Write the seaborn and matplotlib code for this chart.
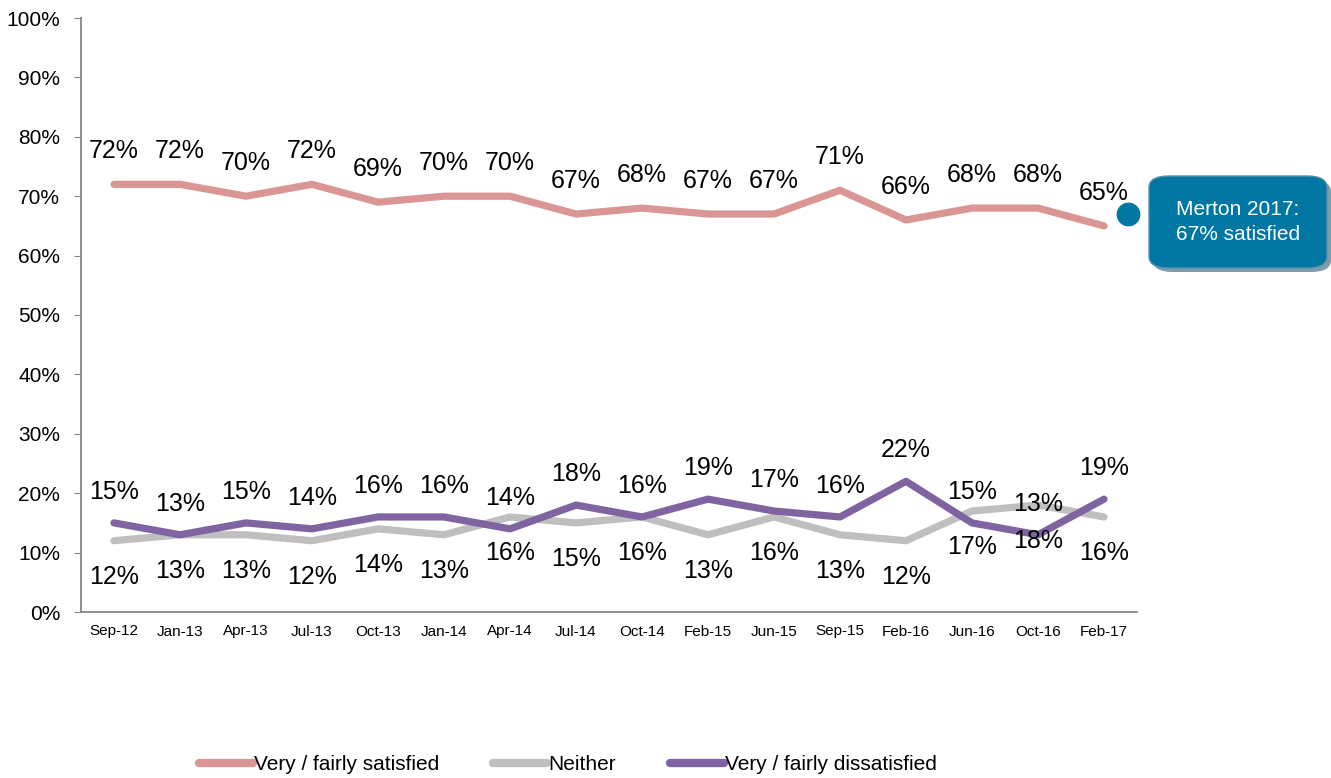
import pandas as pd
import matplotlib.pyplot as plt
import seaborn as sns
from matplotlib.patches import FancyBboxPatch
from matplotlib.lines import Line2D

periods = ["Sep-12", "Jan-13", "Apr-13", "Jul-13", "Oct-13", "Jan-14", "Apr-14", "Jul-14",
           "Oct-14", "Feb-15", "Jun-15", "Sep-15", "Feb-16", "Jun-16", "Oct-16", "Feb-17"]
satisfied = [72, 72, 70, 72, 69, 70, 70, 67, 68, 67, 67, 71, 66, 68, 68, 65]
neither = [12, 13, 13, 12, 14, 13, 16, 15, 16, 13, 16, 13, 12, 17, 18, 16]
dissatisfied = [15, 13, 15, 14, 16, 16, 14, 18, 16, 19, 17, 16, 22, 15, 13, 19]
series_names = ["Very / fairly satisfied", "Neither", "Very / fairly dissatisfied"]
colors = ["#D99694", "#BFBFBF", "#8064A2"]
merton_value = 67
merton_text = "Merton 2017:\n67% satisfied"

sns.set_style("white")
plt.rcParams['font.family'] = ['Liberation Sans', 'DejaVu Sans']
plt.rcParams['text.color'] = 'black'
plt.rcParams['xtick.color'] = 'black'
plt.rcParams['ytick.color'] = 'black'

df = pd.DataFrame({"period": periods * 3,
                   "value": satisfied + neither + dissatisfied,
                   "series": [s for s in series_names for _ in periods]})

fig = plt.figure(figsize=(13.31, 7.78), dpi=100)
ax = fig.add_axes([81 / 1331, 1 - 612 / 778, (1137 - 81) / 1331, (612 - 18) / 778])

sns.lineplot(data=df, x="period", y="value", hue="series", hue_order=series_names,
             palette=colors, sort=False, linewidth=5.2, ax=ax, legend=False,
             solid_capstyle="round", solid_joinstyle="round")

# data labels: satisfied & dissatisfied above, neither below
for vals, off in [(satisfied, 33), (neither, -36), (dissatisfied, 31)]:
    for i, v in enumerate(vals):
        ax.annotate(f"{v}%", (i, v), xytext=(0, off), textcoords="offset pixels",
                    ha="center", va="center", fontsize=18, color="black")

ax.set_xlim(-0.5, len(periods) - 0.5)
ax.set_ylim(0, 100)
ax.set_yticks(range(0, 101, 10))
ax.set_yticklabels([f"{t}%" for t in range(0, 101, 10)], fontsize=15)
ax.set_xticks(range(len(periods)))
ax.set_xticklabels(periods, fontsize=11)
ax.set_xticks([i - 0.5 for i in range(len(periods) + 1)], minor=True)
ax.tick_params(axis="x", which="major", length=0, pad=9, labelcolor="black")
ax.tick_params(axis="x", which="minor", length=5, color="#868686", direction="out")
ax.tick_params(axis="y", length=5, color="#868686", direction="out", left=True, pad=10,
               labelcolor="black")
ax.set_xlabel("")
ax.set_ylabel("")
for s in ["top", "right"]:
    ax.spines[s].set_visible(False)
for s in ["left", "bottom"]:
    ax.spines[s].set_color("#868686")
    ax.spines[s].set_linewidth(1.3)

# Merton callout
ax.scatter([15.36], [merton_value], s=260, color="#0076A3", clip_on=False, zorder=5)
W, H = 1331, 778
x0, y0, bw, bh = 1149, 778 - 268, 178, 92
shadow = FancyBboxPatch(((x0 + 4) / W, (y0 - 4) / H), bw / W, bh / H,
                        boxstyle="round,pad=0,rounding_size=0.015",
                        transform=fig.transFigure, facecolor="#7F9CAE", edgecolor="none")
box = FancyBboxPatch((x0 / W, y0 / H), bw / W, bh / H,
                     boxstyle="round,pad=0,rounding_size=0.015",
                     transform=fig.transFigure, facecolor="#0076A3", edgecolor="#5D8FAA", linewidth=1)
fig.patches.extend([shadow, box])
fig.text((x0 + bw / 2) / W, (y0 + bh / 2) / H, merton_text, ha="center", va="center",
         color="white", fontsize=15, linespacing=1.35)

handles = [Line2D([], [], color=c, linewidth=6, solid_capstyle="round") for c in colors]
fig.legend(handles, series_names, loc="center", bbox_to_anchor=(568 / W, 1 - 765 / H),
           ncol=3, frameon=False, fontsize=15, handlelength=2.6, handletextpad=0.05,
           columnspacing=2.6)

fig.savefig("out.png", dpi=100)
